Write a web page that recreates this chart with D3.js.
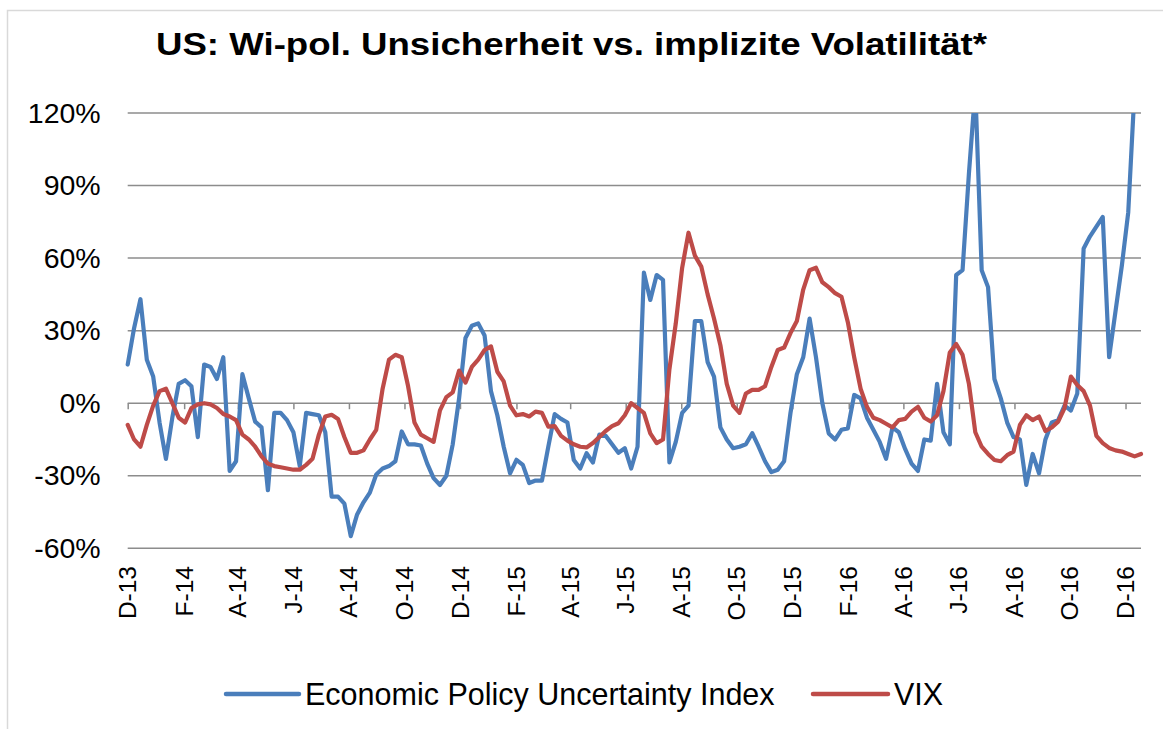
<!DOCTYPE html>
<html><head><meta charset="utf-8">
<script src="https://cdn.jsdelivr.net/npm/d3@7"></script>
<style>
body{margin:0;background:#fff;}
svg{display:block;font-family:"Liberation Sans",Arial,sans-serif;}
</style>
</head><body>
<svg id="chart" width="1163" height="729"></svg>
<script>
// Weekly observations starting 1 Dec 2013 (% deviation)
const startDate = "2013-12-01";
const epu = [16,31,43,18,11,-8,-23,-6,8,9.5,7,-14,16,15,10,19,-28,-24,12,2,
  -7.6,-10,-36,-4,-4,-7,-12,-26,-4,-4.5,-5,-12,-38.6,-38.6,-41.5,-55,-46,-41,-37,-29.5,
  -27,-26,-24,-11.7,-17,-17,-17.5,-25,-31,-33.8,-30,-17,2,27,32,33,28,5,-5,-18,
  -29,-23.4,-25.5,-33,-32,-32,-18,-4.5,-6.5,-8,-23.5,-27,-20.7,-24.5,-13,-13.5,-17,-20.5,-18.6,-27,
  -18,54,42.7,53,51,-24.5,-16,-4,-1,34,34,17,11,-10,-15,-18.6,-18,-17,-12.4,-18,
  -24,-28.5,-27.5,-24,-4,12,19,35,19,0,-12.5,-15,-11,-10.4,3.4,2,-6,-11,-16,-23,
  -10,-12,-19,-25,-28,-15,-15.5,8,-12,-17,53,55,95,130,55,48,10,2,-8,-14,
  -15,-33.8,-21,-29,-15,-8,-7,-1,-3,4,64,69,73,77,19,38,57,79,130,140];
const vix = [-9,-15,-18,-9,-1,5,6,0,-6,-8,-2,-0.5,0,-0.5,-2,-4.5,-5.5,-7,-13,-15,
  -18,-22,-25,-26,-26.5,-27,-27.5,-27.5,-25.5,-23,-13,-5.5,-4.8,-6.5,-14,-20.5,-20.5,-19.5,-15,-11,
  6,18,20,19,7,-8,-13,-14.5,-16,-3,2.5,4.5,13.5,8.5,15,18,22,23.5,13,9,
  -1,-5,-4.5,-5.5,-3.5,-4,-9.7,-9.5,-13.5,-15.5,-17,-18,-18.3,-16.5,-14,-11.5,-9.5,-8.3,-5,0,
  -2,-4,-12.5,-16.5,-15,14,33,56,70.5,61,56.5,45,35,24,8,-1,-4,4,5.5,5.5,
  7,15,22,23,29,34,47,55,56,50,48,45.5,44,33.5,19,6,-1.5,-6,-7,-8.5,
  -10,-7,-6.5,-3.5,-1.5,-6,-7.6,-5,5,21,24.5,20,8,-12,-18,-21,-23.5,-24,-21.5,-20,
  -9,-5,-7,-5.5,-11.5,-10,-7.6,-2,11,7.5,5,-1,-13.5,-16.5,-18.5,-19.5,-20,-21,-22,-21];
const tickLabels = ["D-13","F-14","A-14","J-14","A-14","O-14","D-14","F-15","A-15","J-15",
  "A-15","O-15","D-15","F-16","A-16","J-16","A-16","O-16","D-16"];
const yTicks = [-60,-30,0,30,60,90,120];
const seriesNames = ["Economic Policy Uncertainty Index","VIX"];
const colors = ["#4A7EBB","#BE4B48"];
const title = "US: Wi-pol. Unsicherheit vs. implizite Volatilität*";

(function draw() {
const svg = d3.select("#chart");
const start = new Date(startDate + "T00:00:00Z");
const dates = epu.map((_, i) => d3.utcDay.offset(start, 7 * i));
const pL = 127.7, pR = 1141, pT = 113, pB = 548.3;

const x = d3.scaleUtc().domain([start, dates[dates.length - 1]]).range([pL, pR]);
const y = d3.scaleLinear().domain([-60, 120]).range([pB, pT]);

// chart area border
svg.append("rect").attr("x", 7.5).attr("y", 10.5).attr("width", 1170).attr("height", 740)
  .attr("fill", "#fff").attr("stroke", "#D9D9D9").attr("stroke-width", 1.5);

// title
svg.append("text").attr("x", 156).attr("y", 55)
  .attr("font-weight", "bold").attr("font-size", 32).attr("fill", "#000")
  .attr("textLength", 831).attr("lengthAdjust", "spacingAndGlyphs")
  .text(title);

// gridlines
svg.append("g").selectAll("line").data(yTicks.filter(d => d !== 0)).join("line")
  .attr("x1", pL).attr("x2", pR).attr("y1", d => y(d)).attr("y2", d => y(d))
  .attr("stroke", "#8C8C8C").attr("stroke-width", 1.5);

// y axis labels
const yAxis = d3.axisLeft(y).tickValues(yTicks).tickSize(0).tickPadding(0).tickFormat(d => d + "%");
svg.append("g").attr("transform", `translate(${pL - 27},0)`).call(yAxis)
  .call(g => g.select(".domain").remove())
  .selectAll("text").attr("font-size", 28.5).attr("fill", "#000")
  .attr("font-family", "Liberation Sans, Arial, sans-serif");

// x axis line at 0 with ticks
const tickDates = d3.utcMonth.range(start, d3.utcDay.offset(dates[dates.length - 1], 1), 2);
const xAxis = d3.axisBottom(x).tickValues(tickDates).tickSize(6).tickFormat("");
svg.append("g").attr("transform", `translate(0,${y(0)})`).call(xAxis)
  .call(g => g.select(".domain").attr("stroke", "#8C8C8C").attr("stroke-width", 1.5)
    .attr("d", `M${pL},0H${pR}`))
  .call(g => g.selectAll(".tick line").attr("stroke", "#8C8C8C").attr("stroke-width", 1.5));

// x labels (low position)
svg.append("g").selectAll("text").data(tickDates).join("text")
  .attr("transform", d => `translate(${x(d) + 8.5},566) rotate(-90)`)
  .attr("text-anchor", "end").attr("font-size", 24.5).attr("fill", "#000")
  .text((d, i) => tickLabels[i]);

// clip
svg.append("clipPath").attr("id", "plotclip").append("rect")
  .attr("x", pL - 4).attr("y", pT).attr("width", pR - pL + 8).attr("height", pB - pT + 4);

const line = d3.line().x((d, i) => x(dates[i])).y(d => y(d));
const g = svg.append("g").attr("clip-path", "url(#plotclip)");
[epu, vix].forEach((s, k) => {
  g.append("path").datum(s).attr("d", line).attr("fill", "none")
    .attr("stroke", colors[k]).attr("stroke-width", 4.2)
    .attr("stroke-linejoin", "round").attr("stroke-linecap", "round");
});

// legend
const legend = svg.append("g");
const items = [{x1: 226, x2: 299, tx: 305}, {x1: 813, x2: 888, tx: 894}];
items.forEach((it, k) => {
  legend.append("line").attr("x1", it.x1).attr("x2", it.x2).attr("y1", 694).attr("y2", 694)
    .attr("stroke", colors[k]).attr("stroke-width", 4.5).attr("stroke-linecap", "round");
  legend.append("text").attr("x", it.tx).attr("y", 705).attr("font-size", 30.5).attr("fill", "#000")
    .text(seriesNames[k]);
});
})();
</script>
</body></html>
